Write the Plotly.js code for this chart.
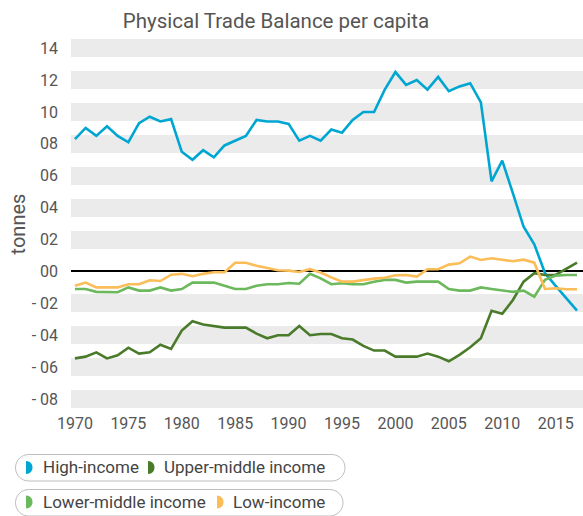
<!DOCTYPE html>
<html>
<head>
<meta charset="utf-8">
<script src="https://cdn.plot.ly/plotly-3.0.1.min.js"></script>
<style>
  html, body { margin: 0; padding: 0; background: #fff; }
  #chart { width: 583px; height: 516px; }
</style>
</head>
<body>
<div id="chart"></div>
<script>
// ---- data ----
const years = [];
for (let y = 1970; y <= 2017; y++) years.push(y);

const highIncome = [0.83, 0.90, 0.85, 0.91, 0.85, 0.81, 0.93, 0.97, 0.94, 0.955,
  0.75, 0.70, 0.76, 0.715, 0.79, 0.82, 0.85, 0.95, 0.94, 0.94,
  0.925, 0.82, 0.85, 0.82, 0.89, 0.87, 0.95, 1.00, 1.00, 1.14,
  1.25, 1.17, 1.20, 1.14, 1.22, 1.13, 1.16, 1.18, 1.06, 0.565,
  0.695, 0.49, 0.28, 0.17, -0.01, -0.09, -0.165, -0.245];

const upperMiddle = [-0.545, -0.534, -0.507, -0.545, -0.526, -0.478, -0.515, -0.507, -0.459, -0.486,
  -0.371, -0.312, -0.333, -0.344, -0.352, -0.352, -0.352, -0.39, -0.419, -0.40,
  -0.40, -0.342, -0.40, -0.392, -0.392, -0.419, -0.427, -0.467, -0.496, -0.496,
  -0.534, -0.534, -0.534, -0.515, -0.534, -0.563, -0.523, -0.475, -0.419, -0.246,
  -0.265, -0.179, -0.064, -0.011, -0.022, -0.022, 0.014, 0.055];

const lowerMiddle = [-0.11, -0.11, -0.128, -0.13, -0.13, -0.10, -0.12, -0.12, -0.10, -0.12,
  -0.11, -0.07, -0.07, -0.07, -0.09, -0.11, -0.11, -0.09, -0.08, -0.08,
  -0.072, -0.077, -0.014, -0.043, -0.08, -0.074, -0.08, -0.08, -0.064, -0.053,
  -0.053, -0.07, -0.064, -0.064, -0.064, -0.11, -0.12, -0.12, -0.10, -0.11,
  -0.118, -0.128, -0.12, -0.158, -0.053, -0.026, -0.022, -0.022];

const lowIncome = [-0.09, -0.07, -0.10, -0.10, -0.10, -0.08, -0.08, -0.055, -0.06, -0.02,
  -0.015, -0.03, -0.015, -0.005, -0.005, 0.055, 0.055, 0.036, 0.024, 0.008,
  0.005, -0.003, 0.014, -0.007, -0.037, -0.064, -0.064, -0.053, -0.045, -0.039,
  -0.024, -0.022, -0.032, 0.014, 0.014, 0.043, 0.051, 0.093, 0.072, 0.083,
  0.074, 0.064, 0.074, 0.055, -0.11, -0.105, -0.112, -0.112];

const yTickVals = [1.4, 1.2, 1.0, 0.8, 0.6, 0.4, 0.2, 0, -0.2, -0.4, -0.6, -0.8];
const yTickText = ["14", "12", "10", "08", "06", "04", "02", "00", "- 02", "- 04", "- 06", "- 08"];
const xTickVals = [1970, 1975, 1980, 1985, 1990, 1995, 2000, 2005, 2010, 2015];

const seriesNames = ["High-income", "Upper-middle income", "Lower-middle income", "Low-income"];
const seriesColors = ["#00a6d2", "#4a7b2b", "#6cb85c", "#fbbd58"];
const seriesValues = [highIncome, upperMiddle, lowerMiddle, lowIncome];

// ---- layout geometry (pixels) ----
const W = 583, H = 516;
const M = { l: 71, r: 0, t: 40, b: 108 };
const PW = W - M.l - M.r, PH = H - M.t - M.b;
const px = x => (x - M.l) / PW;
const py = y => (H - M.b - y) / PH;

// traces
const traces = seriesValues.map((vals, i) => ({
  x: years, y: vals, type: 'scatter', mode: 'lines',
  name: seriesNames[i],
  line: { color: seriesColors[i], width: 2.6 },
  showlegend: false,
  hoverinfo: 'x+y+name'
}));

// legend (pill boxes + D icons + labels)
function pillPath(x0, y0, x1, y1) {
  const r = (y1 - y0) / 2, k = 0.5523 * r;
  const P = (x, y) => px(x) + ',' + py(y);
  return 'M' + P(x0 + r, y0) + ' L' + P(x1 - r, y0) +
    ' C' + P(x1 - r + k, y0) + ' ' + P(x1, y0 + r - k) + ' ' + P(x1, y0 + r) +
    ' C' + P(x1, y0 + r + k) + ' ' + P(x1 - r + k, y1) + ' ' + P(x1 - r, y1) +
    ' L' + P(x0 + r, y1) +
    ' C' + P(x0 + r - k, y1) + ' ' + P(x0, y0 + r + k) + ' ' + P(x0, y0 + r) +
    ' C' + P(x0, y0 + r - k) + ' ' + P(x0 + r - k, y0) + ' ' + P(x0 + r, y0) + ' Z';
}
function dPath(x0, yc) {
  const w = 6.5, h = 13;
  const P = (x, y) => px(x) + ',' + py(y);
  const yt = yc - h / 2, yb = yc + h / 2;
  return 'M' + P(x0, yt) + ' C' + P(x0 + w * 1.33, yt) + ' ' + P(x0 + w * 1.33, yb) + ' ' + P(x0, yb) + ' Z';
}

const legendItems = [
  { s: 0, ix: 26, tx: 41, yc: 467.5 },
  { s: 1, ix: 148, tx: 162, yc: 467.5 },
  { s: 2, ix: 26, tx: 41, yc: 502 },
  { s: 3, ix: 217, tx: 231, yc: 502 }
];

const shapes = [
  { type: 'path', xref: 'paper', yref: 'paper', path: pillPath(15.5, 454.5, 345, 481), line: { color: '#bdbdbd', width: 1 }, layer: 'above' },
  { type: 'path', xref: 'paper', yref: 'paper', path: pillPath(15.5, 489.5, 343, 516), line: { color: '#bdbdbd', width: 1 }, layer: 'above' }
];
const annotations = [];
legendItems.forEach(it => {
  shapes.push({ type: 'path', xref: 'paper', yref: 'paper', path: dPath(it.ix, it.yc),
    fillcolor: seriesColors[it.s], line: { width: 0 }, layer: 'above' });
  annotations.push({ xref: 'paper', yref: 'paper', x: px(it.tx), y: py(it.yc),
    xanchor: 'left', yanchor: 'middle', showarrow: false, text: seriesNames[it.s],
    font: { family: 'Roboto', size: 17, color: '#444' } });
});

const layout = {
  width: W, height: H,
  margin: M,
  paper_bgcolor: '#fff', plot_bgcolor: '#fff',
  font: { family: 'Roboto', color: '#555' },
  title: { text: 'Physical Trade Balance per capita', x: 276 / W, xanchor: 'center', xref: 'container',
    y: 1 - 21 / H, yanchor: 'middle', yref: 'container',
    font: { family: 'Roboto', size: 20.5, color: '#555' } },
  xaxis: {
    range: [1969.63, 2017.56], tickvals: xTickVals, ticks: '', showgrid: false, zeroline: false,
    showline: false, tickfont: { family: 'Roboto', size: 16, color: '#555' }, ticklabelstandoff: 4,
    fixedrange: true
  },
  yaxis: {
    range: [-0.856, 1.451], tickvals: yTickVals, ticktext: yTickText, ticks: '',
    showgrid: true, gridcolor: '#ebebeb', gridwidth: 18,
    zeroline: true, zerolinecolor: '#000', zerolinewidth: 2,
    showline: false, tickfont: { family: 'Roboto', size: 16, color: '#555' }, ticklabelstandoff: 12,
    title: { text: 'tonnes', font: { family: 'Roboto', size: 20, color: '#555' }, standoff: 0 },
    automargin: false,
    fixedrange: true
  },
  shapes: shapes,
  annotations: annotations,
  showlegend: false
};

Plotly.newPlot('chart', traces, layout, { displayModeBar: false, staticPlot: true });
</script>
</body>
</html>
